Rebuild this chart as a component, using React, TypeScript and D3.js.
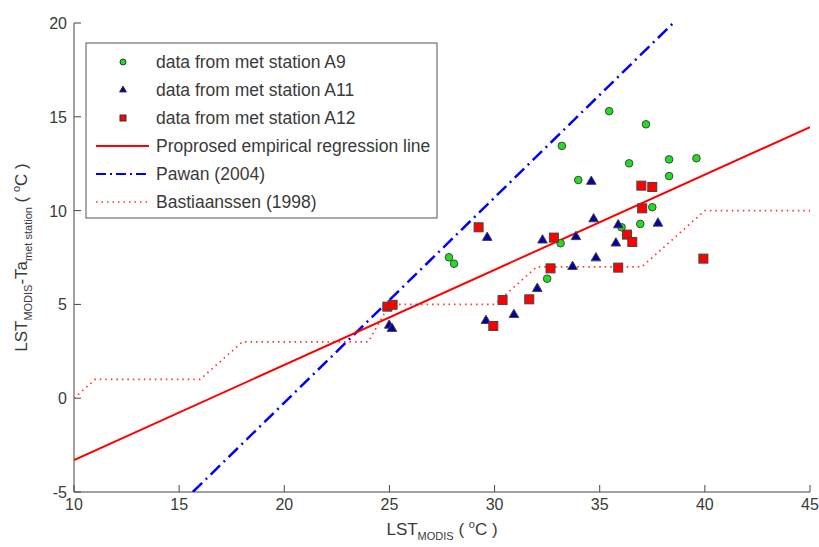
import React from 'react';
import * as d3 from 'd3';

// met station A9 (green circles)
const a9X = [35.45, 37.2, 33.2, 36.4, 38.3, 39.6, 38.3, 33.98, 37.5, 36.93, 36.04, 33.14, 27.83, 28.07, 32.5];
const a9Y = [15.3, 14.6, 13.45, 12.52, 12.73, 12.79, 11.84, 11.63, 10.18, 9.29, 9.11, 8.26, 7.51, 7.17, 6.37];

// met station A11 (blue triangles)
const a11X = [34.6, 29.65, 32.28, 33.87, 34.71, 35.88, 35.77, 37.77, 34.82, 33.71, 32.03, 30.92, 29.59, 24.99, 25.12];
const a11Y = [11.55, 8.56, 8.42, 8.6, 9.55, 9.23, 8.26, 9.32, 7.47, 7.01, 5.84, 4.45, 4.13, 3.88, 3.71];

// met station A12 (red squares)
const a12X = [36.98, 37.5, 37.02, 29.24, 32.82, 36.3, 36.55, 39.93, 35.88, 32.66, 30.38, 31.65, 29.94, 24.9, 25.15];
const a12Y = [11.33, 11.26, 10.12, 9.11, 8.56, 8.72, 8.33, 7.44, 6.96, 6.92, 5.23, 5.27, 3.85, 4.88, 4.98];

// reference lines
const regX = [10, 45];
const regY = [-3.3, 14.45];
const pawanX = [15.65, 38.5];
const pawanY = [-5, 20];
const bastX = [10, 11, 16, 18, 24, 25, 30, 32, 37, 40, 45];
const bastY = [0, 1, 1, 3, 3, 5, 5, 7, 7, 10, 10];

const xTicks = [10, 15, 20, 25, 30, 35, 40, 45];
const yTicks = [-5, 0, 5, 10, 15, 20];

const legendLabels = [
  'data from met station A9',
  'data from met station A11',
  'data from met station A12',
  'Proprosed empirical regression line',
  'Pawan (2004)',
  'Bastiaanssen (1998)',
];

const W = 819;
const H = 547;
const green = '#1fe01f';
const blue = '#0000a8';
const font = '"Liberation Sans", Arial, sans-serif';
const textColor = '#3a3a3a';

export default function App() {
  const x = d3.scaleLinear().domain([10, 45]).range([74, 810]);
  const y = d3.scaleLinear().domain([-5, 20]).range([492, 23]);
  const line = d3.line<[number, number]>().x(d => x(d[0])).y(d => y(d[1]));
  const tri = d3.symbol(d3.symbolTriangle, 40)();
  const triSmall = d3.symbol(d3.symbolTriangle, 20)();

  const [x0, x1] = x.range();
  const [y0, y1] = y.range();

  const lgX = 86, lgY = 43, lgW = 351, lgH = 175, rowH = 28;

  return (
    <svg width={W} height={H} style={{ position: 'absolute', left: 0, top: 0, background: '#fff' }}
      fontFamily={font}>
      <defs>
        <clipPath id="plot">
          <rect x={x0} y={y1} width={x1 - x0} height={y0 - y1} />
        </clipPath>
      </defs>

      {/* axes */}
      <line x1={x0} x2={x1} y1={y0} y2={y0} stroke="#444" />
      <line x1={x0} x2={x0} y1={y0} y2={y1} stroke="#444" />
      {xTicks.map(t => (
        <g key={'x' + t}>
          <line x1={x(t)} x2={x(t)} y1={y0} y2={y0 - 7} stroke="#444" />
          <text x={x(t)} y={510} textAnchor="middle" fontSize={16} fill={textColor}>{t}</text>
        </g>
      ))}
      {yTicks.map(t => (
        <g key={'y' + t}>
          <line x1={x0} x2={x0 + 7} y1={y(t)} y2={y(t)} stroke="#444" />
          <text x={67} y={y(t) + 6} textAnchor="end" fontSize={16} fill={textColor}>{t}</text>
        </g>
      ))}

      {/* axis labels */}
      <text x={442} y={535} textAnchor="middle" fontSize={17} fill={textColor}>
        LST<tspan dy={5} fontSize={11}>MODIS</tspan><tspan dy={-5}> ( </tspan>
        <tspan dy={-7} fontSize={11}>o</tspan><tspan dy={7}>C )</tspan>
      </text>
      <text transform={`translate(27,${(y0 + y1) / 2}) rotate(-90)`} textAnchor="middle" fontSize={17} fill={textColor}>
        LST<tspan dy={5} fontSize={11}>MODIS</tspan><tspan dy={-5}>-</tspan>Ta
        <tspan dy={5} fontSize={11}>met station</tspan><tspan dy={-5}> ( </tspan>
        <tspan dy={-7} fontSize={11}>o</tspan><tspan dy={7}>C )</tspan>
      </text>

      {/* lines */}
      <g clipPath="url(#plot)" fill="none">
        <path d={line(d3.zip(bastX, bastY) as [number, number][]) || ''} stroke="#ff3030" strokeWidth={1.7}
          strokeDasharray="1.5 4" />
        <path d={line(d3.zip(pawanX, pawanY) as [number, number][]) || ''} stroke="#0000ff" strokeWidth={2.5}
          strokeDasharray="13 5 2 5" />
        <path d={line(d3.zip(regX, regY) as [number, number][]) || ''} stroke="#ff0000" strokeWidth={2} />
      </g>

      {/* points */}
      <g stroke="#444" strokeWidth={1}>
        {a9X.map((v, i) => (
          <circle key={'a9' + i} cx={x(v)} cy={y(a9Y[i])} r={3.8} fill={green} />
        ))}
        {a11X.map((v, i) => (
          <path key={'a11' + i} d={tri || ''} transform={`translate(${x(v)},${y(a11Y[i])})`} fill={blue} />
        ))}
        {a12X.map((v, i) => (
          <rect key={'a12' + i} x={x(v) - 4.5} y={y(a12Y[i]) - 4.5} width={9} height={9} fill="#ff0000" />
        ))}
      </g>

      {/* legend */}
      <rect x={lgX} y={lgY} width={lgW} height={lgH} fill="#fff" stroke="#555" />
      {legendLabels.map((lab, i) => {
        const cy = lgY + 19 + i * rowH;
        const mx = 123;
        let mark: React.ReactNode = null;
        if (i === 0) mark = <circle cx={mx} cy={cy} r={3} fill={green} stroke="#333" />;
        if (i === 1) mark = <path d={triSmall || ''} transform={`translate(${mx},${cy})`} fill={blue} stroke="#333" />;
        if (i === 2) mark = <rect x={mx - 3} y={cy - 3} width={6} height={6} fill="#ff0000" stroke="#333" />;
        if (i === 3) mark = <line x1={96} x2={149} y1={cy} y2={cy} stroke="#ff0000" strokeWidth={2} />;
        if (i === 4) mark = <line x1={96} x2={149} y1={cy} y2={cy} stroke="#0000ff" strokeWidth={2} strokeDasharray="10 4 2 4" />;
        if (i === 5) mark = <line x1={96} x2={149} y1={cy} y2={cy} stroke="#ff3030" strokeWidth={1.5} strokeDasharray="1.5 4" />;
        return (
          <g key={lab}>
            {mark}
            <text x={156} y={cy + 6} fontSize={17.5} fill={textColor}>{lab}</text>
          </g>
        );
      })}
    </svg>
  );
}
